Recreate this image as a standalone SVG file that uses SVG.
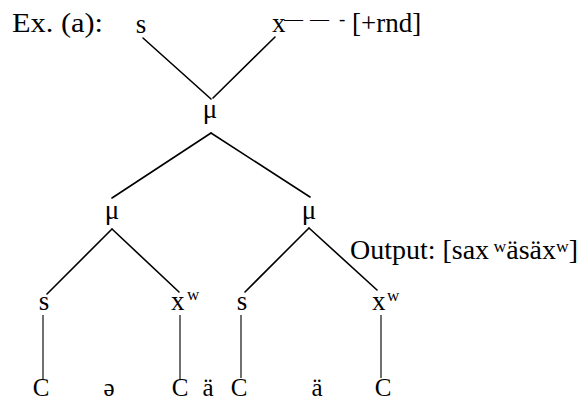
<svg xmlns="http://www.w3.org/2000/svg" width="579" height="403" viewBox="0 0 579 403" font-family="'Liberation Serif', 'DejaVu Serif', serif">
<style>
text{font-family:'Liberation Serif','DejaVu Serif',serif;fill:#000;font-size:27px}
.c{text-anchor:middle}
.sup{font-size:17px}
.dash{font-size:19px}
.edge{stroke:#000;stroke-width:1.6;fill:none;stroke-linecap:round}
.vert{stroke:#111;stroke-width:1.2;fill:none}
.bot{font-size:25px;text-anchor:middle}
</style>
<rect width="579" height="403" fill="#fff"/>
<g id="header">
<text x="12" y="32" textLength="91" lengthAdjust="spacingAndGlyphs" font-family="'Liberation Serif', serif">Ex. (a):</text>
</g>
<g id="connectors">
<line class="edge" x1="143" y1="38" x2="211" y2="99"/>
<line class="edge" x1="275" y1="37" x2="213" y2="98"/>
<line class="edge" x1="211" y1="133" x2="112" y2="198"/>
<line class="edge" x1="211" y1="133" x2="310" y2="197"/>
<line class="edge" x1="112" y1="229" x2="47" y2="294"/>
<line class="edge" x1="112" y1="229" x2="179" y2="292"/>
<line class="edge" x1="309" y1="228" x2="245" y2="292"/>
<line class="edge" x1="309" y1="228" x2="377" y2="290"/>
<line class="vert" x1="43" y1="315" x2="43" y2="380"/>
<line class="vert" x1="180" y1="315" x2="180" y2="380"/>
<line class="vert" x1="241" y1="315" x2="241" y2="378"/>
<line class="vert" x1="381" y1="315" x2="381" y2="378"/>
</g>
<g id="top-s"><text class="c" x="141" y="33" font-family="'Liberation Serif', serif">s</text></g>
<g id="top-x"><text x="272" y="32" font-family="'Liberation Serif', serif">x<tspan class="dash" x="284" y="25">— </tspan><tspan class="dash" x="310" y="25">— </tspan><tspan class="dash" x="339" y="25">-</tspan><tspan x="352" y="32">[+rnd]</tspan></text></g>
<g id="mu-top"><text class="c" x="210" y="118" font-family="'Liberation Serif', serif">μ</text></g>
<g id="mu-left"><text class="c" x="112" y="219" font-family="'Liberation Serif', serif">μ</text></g>
<g id="mu-right"><text class="c" x="309" y="219" font-family="'Liberation Serif', serif">μ</text></g>
<g id="s1"><text class="c" x="44" y="310" font-family="'Liberation Serif', serif">s</text></g>
<g id="xw1"><text x="171" y="310" font-family="'Liberation Serif', serif">x<tspan class="sup" x="187" y="300">w</tspan></text></g>
<g id="s2"><text class="c" x="242" y="310" font-family="'Liberation Serif', serif">s</text></g>
<g id="xw2"><text x="372" y="310" font-family="'Liberation Serif', serif">x<tspan class="sup" x="387" y="301">w</tspan></text></g>
<g id="output"><text x="350" y="259" textLength="228" lengthAdjust="spacingAndGlyphs" font-family="'Liberation Serif', serif">Output: [sax<tspan class="sup" dy="-7"> w</tspan><tspan dy="7">äsäx</tspan><tspan class="sup" dy="-7">w</tspan><tspan dy="7">]</tspan></text></g>
<g id="bottom">
<text class="bot" x="41" y="396" font-family="'Liberation Serif', serif">C</text>
<text class="bot" x="109" y="396" font-family="'Liberation Serif', serif">ə</text>
<text class="bot" x="180" y="396" font-family="'Liberation Serif', serif">C</text>
<text class="bot" x="208" y="396" font-family="'Liberation Serif', serif">ä</text>
<text class="bot" x="239" y="396" font-family="'Liberation Serif', serif">C</text>
<text class="bot" x="317" y="396" font-family="'Liberation Serif', serif">ä</text>
<text class="bot" x="383" y="396" font-family="'Liberation Serif', serif">C</text>
</g>
</svg>
